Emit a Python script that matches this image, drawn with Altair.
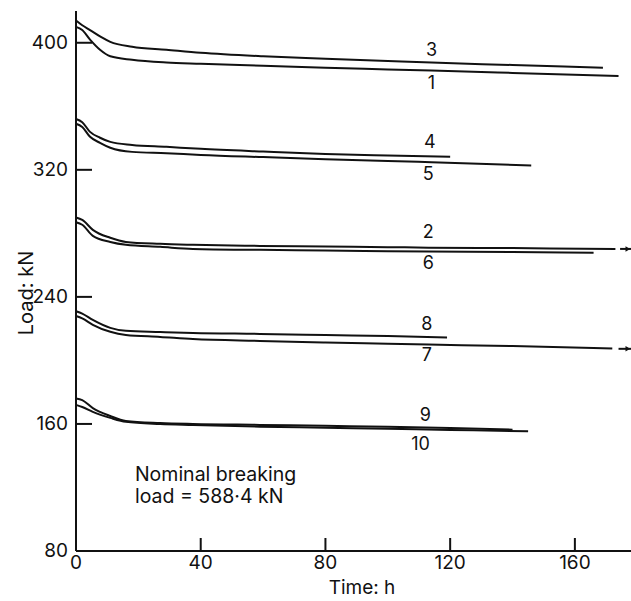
import altair as alt
import pandas as pd

# ---- data ----
t3 = [0, 2, 4.5, 7.7, 11, 18, 29, 40, 60, 80, 100, 114, 140, 169]
l3 = [414, 411, 408, 404, 400.6, 397.5, 395.6, 393.7, 391.5, 390, 388.5, 387.5, 386, 384.3]
t1 = [0, 2, 4.5, 7.7, 11, 18, 29, 40, 60, 80, 100, 114, 140, 174]
l1 = [410, 408, 402, 395.6, 391.5, 389.3, 387.6, 386.8, 385.5, 384.2, 383.2, 382.5, 381, 379]
t4 = [0, 2, 4.5, 7.7, 11, 18, 29, 40, 60, 80, 100, 120]
l4 = [352, 350, 343.9, 340.2, 337.6, 335.7, 334.5, 333.2, 331.5, 330, 329, 328.2]
t5 = [0, 2, 4.5, 7.7, 11, 18, 29, 40, 60, 80, 100, 114, 146]
l5 = [349, 347, 340.8, 337, 333.9, 331.3, 330.5, 329.4, 328, 326.7, 325.6, 324.8, 322.8]
t2 = [0, 2, 5.4, 11, 16, 27, 37.5, 59, 80, 100, 113, 140, 173]
l2 = [290, 288.5, 282.2, 277.2, 274.6, 273.4, 272.8, 272.1, 271.7, 271.3, 271, 270.7, 270.2]
t6 = [0, 2, 5.4, 11, 16, 27, 37.5, 59, 80, 100, 113, 140, 166]
l6 = [287, 285.4, 278.4, 274.6, 272.8, 271.5, 270.2, 269.6, 269.2, 268.8, 268.6, 268.3, 267.8]
t8 = [0, 2, 5.4, 11, 16, 27, 37.5, 59, 80, 100, 119]
l8 = [231, 229.5, 225.5, 220.5, 218.6, 217.9, 217.3, 216.7, 216, 215.4, 214.5]
t7 = [0, 2, 5.4, 11, 16, 27, 37.5, 59, 80, 100, 113, 140, 172]
l7 = [228, 226.5, 222.4, 218, 216, 214.8, 213.5, 212.3, 211.3, 210.5, 210, 209, 207.5]
t9 = [0, 2, 5.4, 11, 16, 27, 37.5, 59, 80, 100, 120, 140]
l9 = [176, 175, 170, 165, 161.9, 160.6, 160, 159.4, 158.8, 158.2, 157.4, 156.4]
t10 = [0, 2, 5.4, 11, 16, 27, 37.5, 59, 80, 100, 120, 145]
l10 = [172, 170.7, 167.6, 163.8, 161.3, 160, 159.4, 158.3, 157.6, 156.9, 156.2, 155.4]

# continuation marks (dash + arrow) for curves 2 and 7
cont_series = ["2", "2", "7", "7"]
cont_t = [174.5, 178, 174, 178]
cont_l = [270.2, 270.2, 207.3, 207.3]
arrow_t = [177, 177]
arrow_l = [270.2, 207.3]

# curve labels
lab_text = ["3", "1", "4", "5", "2", "6", "8", "7", "9", "10"]
lab_t = [114, 114, 113.5, 113, 113, 113, 112.5, 112.5, 112, 110.5]
lab_l = [395, 374, 337, 317, 280, 261, 222, 203, 165, 147]

note_lines = ["Nominal breaking", "load = 588·4 kN"]
note_t = [18.9, 18.9]
note_l = [128, 114]

y_ticks = [80, 160, 240, 320, 400]
x_ticks = [0, 40, 80, 120, 160]
x_title = "Time: h"
y_title = "Load: kN"

# ---- tables ----
series = {"3": (t3, l3), "1": (t1, l1), "4": (t4, l4), "5": (t5, l5),
          "2": (t2, l2), "6": (t6, l6), "8": (t8, l8), "7": (t7, l7),
          "9": (t9, l9), "10": (t10, l10)}
rows = []
for name, (ts, ls) in series.items():
    for i, (t, l) in enumerate(zip(ts, ls)):
        rows.append({"s": name, "i": i, "t": t, "load": l})
df = pd.DataFrame(rows)
cont_df = pd.DataFrame({"s": cont_series, "t": cont_t, "load": cont_l})
arrow_df = pd.DataFrame({"t": arrow_t, "load": arrow_l})
lab_df = pd.DataFrame({"txt": lab_text, "t": lab_t, "load": lab_l})
note_df = pd.DataFrame({"txt": note_lines, "t": note_t, "load": note_l})
ytick_df = pd.DataFrame({"yv": y_ticks})
xtick_df = pd.DataFrame({"xv": x_ticks})
one = pd.DataFrame({"k": [0]})

FONT = "Inter"
INK = "#111111"
W, H = 555, 540
X_MIN, X_MAX, Y_MIN, Y_MAX = 0, 178, 80, 420
xs = alt.Scale(domain=[X_MIN, X_MAX], nice=False, zero=False)
ys = alt.Scale(domain=[Y_MIN, Y_MAX], nice=False, zero=False)
# tick lengths in pixels, converted to data units for field-based rules
YT_LEN = 16 * (X_MAX - X_MIN) / W
XT_LEN = 13 * (Y_MAX - Y_MIN) / H

X = alt.X("t:Q", scale=xs, axis=None)
Y = alt.Y("load:Q", scale=ys, axis=None)

lines = alt.Chart(df).mark_line(color=INK, strokeWidth=2, interpolate="monotone").encode(
    x=X, y=Y, detail="s:N", order="i:Q")
cont = alt.Chart(cont_df).mark_line(color=INK, strokeWidth=2).encode(
    x=X, y=Y, detail="s:N")
arrows = alt.Chart(arrow_df).mark_point(shape="triangle-right", filled=True, color=INK,
                                        size=30, opacity=1).encode(x=X, y=Y)
labels = alt.Chart(lab_df).mark_text(font=FONT, fontSize=18, color=INK, align="center",
                                     baseline="middle").encode(x=X, y=Y, text="txt:N")
note = alt.Chart(note_df).mark_text(font=FONT, fontSize=19.5, color=INK, align="left",
                                    baseline="middle").encode(x=X, y=Y, text="txt:N")

# hand-drawn axes: domain lines, inward ticks, labels, titles
y_dom = alt.Chart(one).mark_rule(color=INK, strokeWidth=2).encode(
    x=alt.value(0), y=alt.value(0), y2=alt.value(H))
x_dom = alt.Chart(one).mark_rule(color=INK, strokeWidth=2).encode(
    y=alt.value(H), x=alt.value(0), x2=alt.value(W))
yt = alt.Chart(ytick_df).transform_calculate(
    a=f"{X_MIN}", b=f"{X_MIN + YT_LEN}"
).mark_rule(color=INK, strokeWidth=2).encode(
    y=alt.Y("yv:Q", scale=ys, axis=None),
    x=alt.X("a:Q", scale=xs, axis=None), x2="b:Q")
xt = alt.Chart(xtick_df).transform_calculate(
    a=f"{Y_MIN}", b=f"{Y_MIN + XT_LEN}"
).mark_rule(color=INK, strokeWidth=2).encode(
    x=alt.X("xv:Q", scale=xs, axis=None),
    y=alt.Y("a:Q", scale=ys, axis=None), y2="b:Q")
ylab = alt.Chart(ytick_df).mark_text(font=FONT, fontSize=19, color=INK, align="right",
                                     baseline="middle").encode(
    y=alt.Y("yv:Q", scale=ys, axis=None), x=alt.value(-8), text="yv:Q")
xlab = alt.Chart(xtick_df).mark_text(font=FONT, fontSize=19, color=INK, align="center",
                                     baseline="middle").encode(
    x=alt.X("xv:Q", scale=xs, axis=None), y=alt.value(H + 12), text="xv:Q")
xtit = alt.Chart(one).mark_text(text=x_title, font=FONT, fontSize=19, color=INK,
                                align="center", baseline="middle").encode(
    x=alt.value(286), y=alt.value(H + 37))
ytit = alt.Chart(one).mark_text(text=y_title, font=FONT, fontSize=20, color=INK, angle=270,
                                align="center", baseline="middle").encode(
    x=alt.value(-49), y=alt.value(282))

chart = alt.layer(lines, cont, arrows, labels, note,
                  y_dom, x_dom, yt, xt, ylab, xlab, xtit, ytit).properties(
    width=W, height=H,
    padding={"left": 76, "top": 11, "right": 0, "bottom": 50},
    autosize=alt.AutoSizeParams(type="none"),
    background="white",
).configure_view(stroke=None)

chart.save("out.html", embed_options={"renderer": "svg", "actions": False})
